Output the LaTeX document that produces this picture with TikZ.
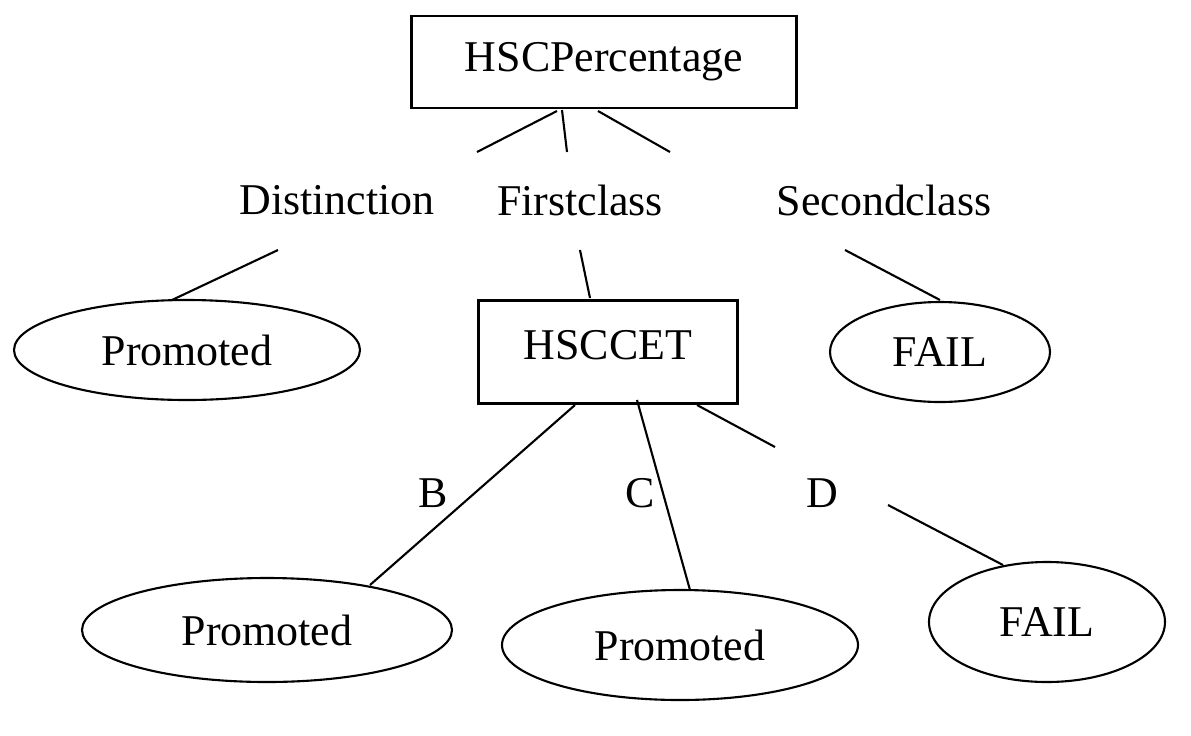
\documentclass[tikz,border=0pt]{standalone}
\usepackage{fontspec}
\setmainfont{Liberation Serif}
\usetikzlibrary{shapes.geometric}
\begin{document}
\begin{tikzpicture}[x=0.02cm,y=-0.02cm,
  txt/.style={font=\fontsize{25}{28}\selectfont},
  box/.style={draw,line width=1.2pt,rectangle,inner sep=0pt},
  ell/.style={draw,line width=1.2pt,ellipse,inner sep=0pt},
  ln/.style={line width=1.2pt}]
\useasboundingbox (0,0) rectangle (1191,735);
\node[box,minimum width=385*0.02cm,minimum height=92*0.02cm,txt] (hp) at (604,62) {HSCPercentage};
\node[txt] (dist) at (337,200) {Distinction};
\node[txt] (first) at (580,200) {Firstclass};
\node[txt] (second) at (884,200) {Secondclass};
\node[ell,minimum width=346*0.02cm,minimum height=100*0.02cm,txt] (p1) at (187,350) {Promoted};
\node[box,minimum width=259*0.02cm,minimum height=103*0.02cm,txt] (cet) at (608,352) {};
\node[txt] (cett) at (608,345) {HSCCET};
\node[ell,minimum width=220*0.02cm,minimum height=100*0.02cm,txt] (f1) at (940,352) {FAIL};
\node[txt] (lb) at (433,493) {B};
\node[txt] (lc) at (640,493) {C};
\node[txt] (ld) at (822,493) {D};
\node[ell,minimum width=370*0.02cm,minimum height=104*0.02cm,txt] (p2) at (267,630) {Promoted};
\node[ell,minimum width=356*0.02cm,minimum height=110*0.02cm,txt] (p3) at (680,645) {Promoted};
\node[ell,minimum width=236*0.02cm,minimum height=120*0.02cm,txt] (f2) at (1047,622) {FAIL};
\draw[ln] (477,152) -- (557,111);
\draw[ln] (567,152) -- (562,110);
\draw[ln] (670,152) -- (598,111);
\draw[ln] (278,250) -- (172,300);
\draw[ln] (580,250) -- (590,298);
\draw[ln] (845,250) -- (940,300);
\draw[ln] (575,405) -- (370,585);
\draw[ln] (637,400) -- (690,590);
\draw[ln] (697,405) -- (775,447);
\draw[ln] (888,505) -- (1003,565);
\end{tikzpicture}
\end{document}
